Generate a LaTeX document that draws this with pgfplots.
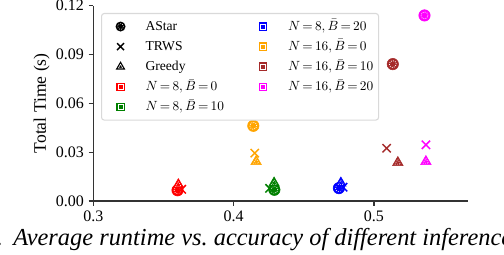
\documentclass[border=0pt]{standalone}
\usepackage{fontspec}
\setmainfont{Liberation Serif}
\usepackage{pgfplots}
\pgfplotsset{compat=1.18}

\definecolor{mgreen}{HTML}{008000}
\definecolor{morange}{HTML}{FFA500}
\definecolor{mbrown}{HTML}{A52A2A}
\definecolor{mmag}{HTML}{FF00FF}
\definecolor{spine}{HTML}{333333}

\newcommand{\E}{\mskip-2mu=\mskip-2mu}

\newcommand{\AS}[3]{%
 \addplot[only marks, mark=*, mark size=4.3pt, mark options={draw=#1, fill=#1, solid}, forget plot] coordinates {(#2,#3)};
 \addplot[only marks, mark=o, mark size=2.6pt, mark options={draw=white, line width=0.6pt, densely dotted}, forget plot] coordinates {(#2,#3)};}
\newcommand{\TR}[3]{%
 \addplot[only marks, mark=x, mark size=4.4pt, mark options={draw=#1, line width=1.1pt, solid}, forget plot] coordinates {(#2,#3)};}
\newcommand{\GR}[3]{%
 \addplot[only marks, mark=triangle*, mark size=4.6pt, mark options={draw=#1, fill=#1, solid}, forget plot] coordinates {(#2,#3)};
 \addplot[only marks, mark=triangle, mark size=2.3pt, mark options={draw=white, line width=0.5pt, densely dotted}, forget plot] coordinates {(#2,#3)};}

\pgfplotsset{
 legAS/.style={legend image code/.code={\path[draw=none,fill=none] (-10.25pt,-5pt) rectangle (5pt,5pt);
   \path[fill=black, draw=none] (0,0) circle (3.75pt);
   \draw[white, densely dotted, line width=0.5pt] (0,0) circle (2.2pt);}},
 legTR/.style={legend image code/.code={\path[draw=none,fill=none] (-10.25pt,-5pt) rectangle (5pt,5pt);
   \draw[black, line width=1.1pt, sharp corners] (-2.6pt,-2.6pt) -- (2.6pt,2.6pt) (-2.6pt,2.6pt) -- (2.6pt,-2.6pt);}},
 legGR/.style={legend image code/.code={\path[draw=none,fill=none] (-10.25pt,-5pt) rectangle (5pt,5pt);
   \path[fill=black, draw=none, sharp corners] (90:4.2pt) -- (210:4.2pt) -- (330:4.2pt) -- cycle;
   \draw[white, line width=0.4pt, sharp corners] (90:1.9pt) -- (210:1.9pt) -- (330:1.9pt) -- cycle;}},
 legSQ/.style={legend image code/.code={\path[draw=none,fill=none] (-10.25pt,-5pt) rectangle (5pt,5pt);
   \path[fill=#1, draw=none, sharp corners] (-3.3pt,-3.3pt) rectangle (3.3pt,3.3pt);
   \draw[white, line width=0.5pt, sharp corners] (-1.9pt,-1.9pt) rectangle (1.9pt,1.9pt);}},
}

\begin{document}
\begin{tikzpicture}
\fill[white] (-70pt,-39.75pt) rectangle (308pt,150.75pt);
\begin{axis}[
 at={(0,0)}, anchor=south west,
 scale only axis, width=281pt, height=146.5pt,
 xmin=0.3, xmax=0.567, ymin=0, ymax=0.12,
 axis x line*=bottom, axis y line*=left,
 axis line style={spine, line width=0.8pt, -},
 xtick={0.3,0.4,0.5}, ytick={0,0.03,0.06,0.09,0.12},
 tick align=outside, major tick length=3.5pt,
 tick style={spine, line width=0.8pt},
 xticklabel style={/pgf/number format/.cd, fixed, fixed zerofill, precision=1},
 yticklabel style={/pgf/number format/.cd, fixed, fixed zerofill, precision=2},
 /pgf/number format/assume math mode=true,
 ticklabel style={font=\fontsize{12}{14}\selectfont},
 ylabel={Total Time (s)},
 ylabel style={font=\fontsize{13.2}{15}\selectfont, at={(axis description cs:-0.1377,0.5)}, anchor=center},
 clip=false,
 legend columns=2, legend cell align=left,
 legend style={at={(0.0205,0.9625)}, anchor=north west, draw=black!15, line width=0.8pt,
   rounded corners=2pt, fill=white, inner xsep=4pt, inner ysep=4.5pt,
   row sep=4.6pt, column sep=13.75pt, font=\fontsize{10.2}{12}\selectfont,
   nodes={inner sep=0pt, text height=8pt, text depth=2.5pt},
   /tikz/every even column/.append style={column sep=19pt}},
]
% N=8, B=0 (red)
\AS{red}{0.360}{0.0066}
\TR{red}{0.363}{0.0072}
\GR{red}{0.3606}{0.0100}
% N=8, B=10 (green)
\AS{mgreen}{0.429}{0.0069}
\TR{mgreen}{0.4256}{0.0078}
\GR{mgreen}{0.4288}{0.0110}
% N=8, B=20 (blue)
\AS{blue}{0.475}{0.0079}
\TR{blue}{0.478}{0.0085}
\GR{blue}{0.4764}{0.0110}
% N=16, B=0 (orange)
\AS{morange}{0.414}{0.0462}
\TR{morange}{0.415}{0.0294}
\GR{morange}{0.416}{0.0242}
% N=16, B=10 (brown)
\AS{mbrown}{0.5134}{0.0841}
\TR{mbrown}{0.509}{0.0324}
\GR{mbrown}{0.517}{0.0236}
% N=16, B=20 (magenta)
\AS{mmag}{0.536}{0.1140}
\TR{mmag}{0.537}{0.0345}
\GR{mmag}{0.537}{0.0242}

\addlegendimage{legAS}\addlegendentry{AStar}
\addlegendimage{legSQ=blue}\addlegendentry{$N\E8,\bar{B}\E20$}
\addlegendimage{legTR}\addlegendentry{TRWS}
\addlegendimage{legSQ=morange}\addlegendentry{$N\E16,\bar{B}\E0$}
\addlegendimage{legGR}\addlegendentry{Greedy}
\addlegendimage{legSQ=mbrown}\addlegendentry{$N\E16,\bar{B}\E10$}
\addlegendimage{legSQ=red}\addlegendentry{$N\E8,\bar{B}\E0$}
\addlegendimage{legSQ=mmag}\addlegendentry{$N\E16,\bar{B}\E20$}
\addlegendimage{legSQ=mgreen}\addlegendentry{$N\E8,\bar{B}\E10$}

\node[anchor=base west, inner sep=0pt, font=\fontsize{18.3}{20}\selectfont\itshape, xshift=-60.25pt, yshift=-33.5pt] at (rel axis cs:0,0) {Average runtime vs.\ accuracy of different inference methods};
\node[anchor=base east, inner sep=0pt, font=\fontsize{18.3}{20}\selectfont\itshape, xshift=-67.5pt, yshift=-33.5pt] at (rel axis cs:0,0) {(a).};
\end{axis}
\pgfresetboundingbox
\path[use as bounding box] (-70pt,-39.75pt) rectangle (308pt,150.75pt);
\end{tikzpicture}
\end{document}
